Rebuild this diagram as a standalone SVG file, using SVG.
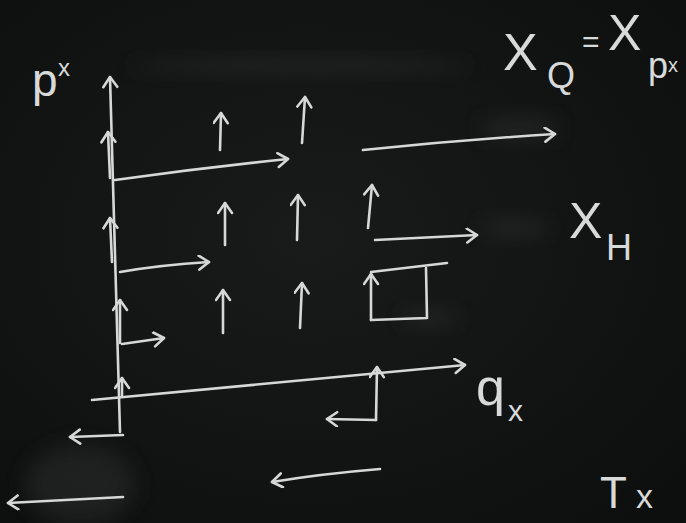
<svg xmlns="http://www.w3.org/2000/svg" width="686" height="523" viewBox="0 0 686 523">
<defs>
<radialGradient id="bg" cx="0.45" cy="0.45" r="0.8">
<stop offset="0" stop-color="#191b1a"/>
<stop offset="1" stop-color="#0c0d0d"/>
</radialGradient>
<filter id="blur" x="-50%" y="-50%" width="200%" height="200%"><feGaussianBlur stdDeviation="10"/></filter>
<marker id="ah" markerUnits="userSpaceOnUse" markerWidth="20" markerHeight="20" refX="12" refY="8" orient="auto">
<path d="M2,1 L12,8 L2,15" fill="none" stroke="#d6d8d8" stroke-width="2.6" stroke-linecap="round" stroke-linejoin="round"/>
</marker>
<style>
.c{fill:none;stroke:#d6d8d8;stroke-width:2.6;stroke-linecap:round;stroke-linejoin:round}
.a{marker-end:url(#ah)}
.t{fill:#d8dada;font-family:"Liberation Sans",Arial,sans-serif;font-weight:normal}
.s{fill:#3a3d3c;opacity:0.35;filter:url(#blur)}
</style>
</defs>
<rect width="686" height="523" fill="url(#bg)"/>
<g id="smudges">
<ellipse class="s" cx="80" cy="485" rx="55" ry="40"/>
<ellipse class="s" cx="520" cy="128" rx="40" ry="12"/>
<ellipse class="s" cx="515" cy="228" rx="35" ry="10"/>
<ellipse class="s" cx="300" cy="66" rx="170" ry="8"/>
<ellipse class="s" cx="430" cy="318" rx="28" ry="9"/>
</g>
<g id="axes">
<path class="c a" d="M120,432 L110,77"/>
<path class="c a" d="M92,400 L465,365"/>
<path class="c a" d="M123,435 L70,437"/>
</g>
<g id="connectors">
<path class="c a" d="M110,178 L108,132"/>
<path class="c a" d="M112,262 L110,218"/>
<path class="c a" d="M120,343 L120,300"/>
<path class="c a" d="M122,396 L122,378"/>
<path class="c a" d="M115,180 Q200,168 288,159"/>
<path class="c a" d="M120,272 Q160,265 209,262"/>
<path class="c a" d="M122,344 L164,338"/>
<path class="c a" d="M363,150 Q460,140 555,134"/>
<path class="c a" d="M375,240 L477,235"/>
<path class="c a" d="M220,150 L221,113"/>
<path class="c a" d="M302,143 L305,97"/>
<path class="c a" d="M225,245 L225,203"/>
<path class="c a" d="M297,240 L298,195"/>
<path class="c a" d="M368,228 L372,185"/>
<path class="c a" d="M223,333 L223,290"/>
<path class="c a" d="M300,328 L302,283"/>
<path class="c a" d="M371,320 L371,274"/>
<path class="c" d="M371,272 L447,263"/>
<path class="c" d="M426,268 L427,318 L371,320"/>
<path class="c a" d="M376,420 L377,367"/>
<path class="c a" d="M376,420 L327,419"/>
<path class="c a" d="M380,469 Q320,474 272,482"/>
<path class="c a" d="M123,497 L8,503"/>
</g>
<g id="labels">
<text class="t" x="32" y="96" font-size="46">p</text>
<text class="t" x="58" y="76" font-size="24">x</text>
<text class="t" x="503" y="70" font-size="52">X</text>
<text class="t" x="547" y="88" font-size="36">Q</text>
<text class="t" x="582" y="52" font-size="30">=</text>
<text class="t" x="608" y="50" font-size="50">X</text>
<text class="t" x="648" y="78" font-size="36">p</text>
<text class="t" x="668" y="72" font-size="20">x</text>
<text class="t" x="569" y="238" font-size="50">X</text>
<text class="t" x="606" y="260" font-size="36">H</text>
<text class="t" x="476" y="405" font-size="52">q</text>
<text class="t" x="508" y="421" font-size="30">x</text>
<text class="t" x="600" y="508" font-size="44">T</text>
<text class="t" x="636" y="508" font-size="34">x</text>
</g>
</svg>
